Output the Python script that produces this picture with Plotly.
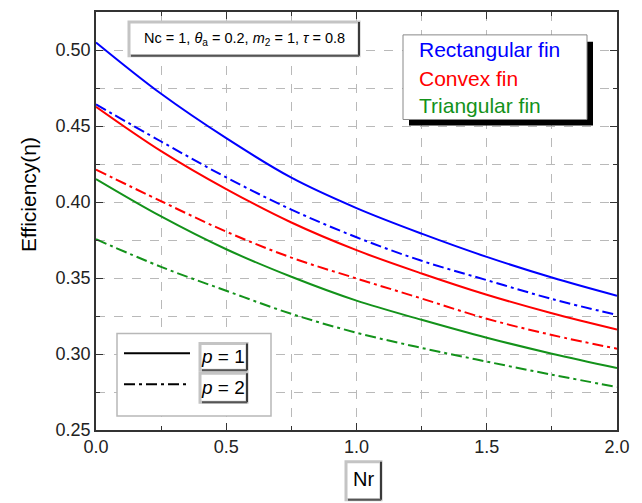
import plotly.graph_objects as go

nr = [0.0, 0.25, 0.5, 0.75, 1.0, 1.25, 1.5, 1.75, 2.0]
rect_p1 = [0.505, 0.4712, 0.4420, 0.4160, 0.3960, 0.3792, 0.3639, 0.3503, 0.3383]
rect_p2 = [0.4642, 0.4398, 0.4162, 0.3950, 0.3768, 0.3613, 0.3486, 0.3362, 0.3257]
conv_p1 = [0.4627, 0.4335, 0.4085, 0.3865, 0.3683, 0.3530, 0.3390, 0.3268, 0.3161]
conv_p2 = [0.4213, 0.4005, 0.3805, 0.3634, 0.3497, 0.3365, 0.3232, 0.3125, 0.3035]
tri_p1 = [0.4151, 0.3905, 0.3689, 0.3508, 0.3351, 0.3225, 0.3107, 0.3002, 0.2908]
tri_p2 = [0.3755, 0.3573, 0.3416, 0.3264, 0.3140, 0.3040, 0.2950, 0.2864, 0.2783]

BLUE, RED, GREEN = "#0000FF", "#FF0000", "#13921A"
DD = "11px,4px,3px,4px"
FONT = "Liberation Sans, Arial, Helvetica, sans-serif"

W, H = 642, 503
L, R, T, B = 96, 25, 10, 73
PW, PH = W - L - R, H - T - B


def px(x):
    return (x - L) / PW


def py(y):
    return (H - B - y) / PH


fig = go.Figure()
series = [
    (rect_p1, BLUE, "solid"), (rect_p2, BLUE, DD),
    (conv_p1, RED, "solid"), (conv_p2, RED, DD),
    (tri_p1, GREEN, "solid"), (tri_p2, GREEN, DD),
]
for ys, c, d in series:
    fig.add_trace(go.Scatter(x=nr, y=ys, mode="lines",
                             line=dict(color=c, width=2, dash=d, shape="spline", smoothing=1.0),
                             showlegend=False, hoverinfo="skip"))

shapes = []
anns = []


def rect(x0, y0, x1, y1, fill="white", line="#888", lw=1):
    shapes.append(dict(type="rect", xref="paper", yref="paper", x0=px(x0), x1=px(x1), y0=py(y1), y1=py(y0),
                       fillcolor=fill, line=dict(color=line, width=lw), layer="above"))


def seg(x0, y0, x1, y1, color, lw, dash="solid"):
    shapes.append(dict(type="line", xref="paper", yref="paper", x0=px(x0), x1=px(x1), y0=py(y0), y1=py(y1),
                       line=dict(color=color, width=lw, dash=dash), layer="above"))


def bevel(x0, y0, x1, y1):
    rect(x0, y0, x1, y1, fill="white", line="#c4c4c4", lw=3)
    seg(x1, y0, x1, y1, "#3a3a3a", 2)
    seg(x0 + 2, y1, x1, y1, "#555555", 2)


def text(x, y, s, size, color="black", angle=0, xanchor="center"):
    anns.append(dict(xref="paper", yref="paper", x=px(x), y=py(y), text=s, showarrow=False,
                     font=dict(family=FONT, size=size, color=color), textangle=angle,
                     xanchor=xanchor, yanchor="middle"))


# parameter box
bevel(129, 20, 359, 54)
text(244, 37, "Nc = 1, <i>θ</i><sub>a</sub> = 0.2, <i>m</i><sub>2</sub> = 1, <i>τ</i> = 0.8", 14.5)

# fin legend
rect(409, 40, 593, 124, fill="black", line="black", lw=0)
rect(403, 33, 587, 118, fill="white", line="#888888", lw=1)
text(417, 48, "Rectangular fin", 21, BLUE, xanchor="left")
text(417, 77, "Convex fin", 21, RED, xanchor="left")
text(417, 104, "Triangular fin", 21, GREEN, xanchor="left")

# p legend
rect(117, 333, 271, 416, fill="white", line="#b8b8b8", lw=1.5)
seg(124, 353, 190, 353, "black", 2)
seg(124, 384, 190, 384, "black", 2, dash=DD)
bevel(200, 343, 247, 370)
bevel(200, 373, 247, 402)
text(223, 356, "<i>p</i> = 1", 19)
text(223, 387, "<i>p</i> = 2", 19)

# axis titles
bevel(346, 462, 381, 500)
text(363, 479, "Nr", 20)
text(28, 194, "Efficiency(η)", 21, angle=-90)

axis_common = dict(
    showline=True, linecolor="#333333", linewidth=1.6, mirror="ticks",
    ticks="inside", ticklen=7, tickwidth=1.3, tickcolor="#333333",
    showgrid=True, gridcolor="#b9b9b9", griddash="dash", gridwidth=1,
    tickfont=dict(family=FONT, size=18, color="#222222"), zeroline=False,
)
fig.update_xaxes(range=[0, 2], dtick=0.5, tickformat=".1f",
                 minor=dict(dtick=0.25, showgrid=True, gridcolor="#b9b9b9", griddash="dash",
                            ticks="inside", ticklen=4, tickcolor="#333333"),
                 **axis_common)
fig.update_yaxes(range=[0.25, 0.525], dtick=0.05, tickformat=".2f",
                 minor=dict(dtick=0.025, showgrid=True, gridcolor="#b9b9b9", griddash="dash",
                            ticks="inside", ticklen=4, tickcolor="#333333"),
                 **axis_common)

fig.update_layout(
    width=W, height=H, margin=dict(l=L, r=R, t=T, b=B),
    paper_bgcolor="white", plot_bgcolor="white",
    shapes=shapes, annotations=anns, showlegend=False,
    font=dict(family=FONT),
)
fig.write_html("out.html")
